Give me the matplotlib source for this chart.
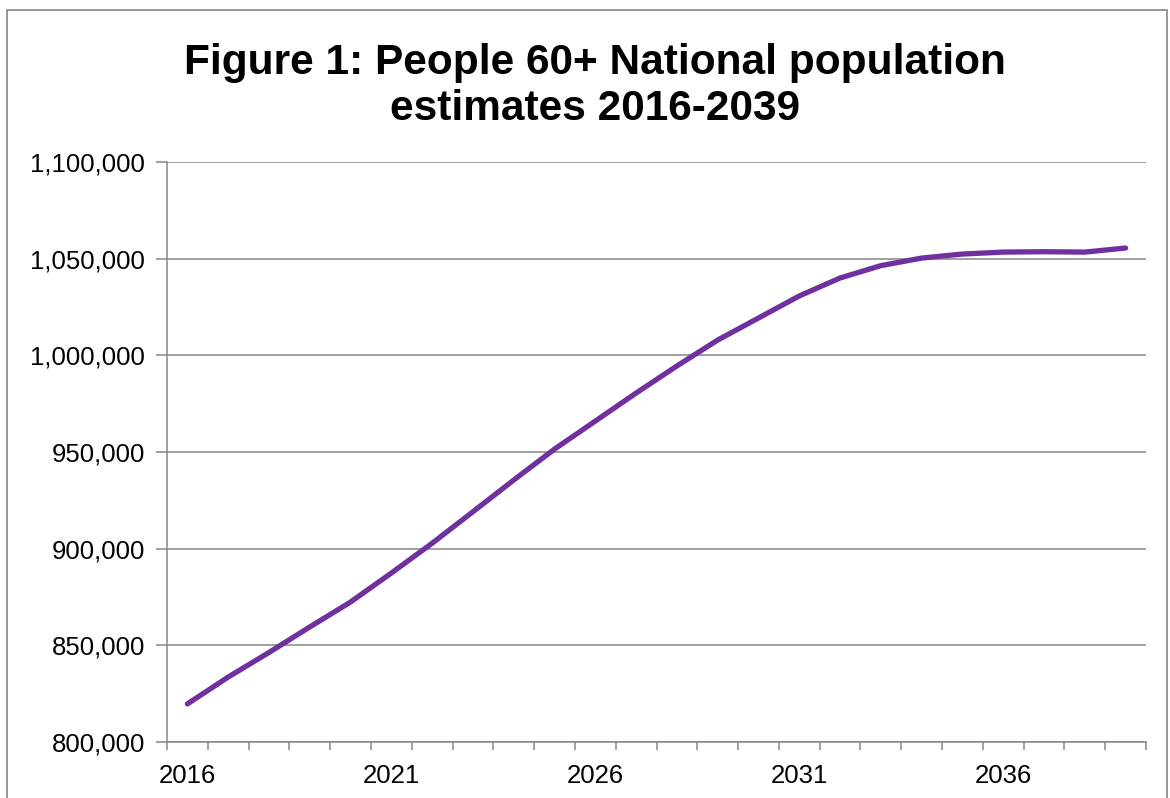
import matplotlib
matplotlib.use("Agg")
import matplotlib.pyplot as plt
from matplotlib.patches import Rectangle
from matplotlib.ticker import FuncFormatter

plt.rcParams['font.family'] = ['Liberation Sans', 'DejaVu Sans']

years = list(range(2016, 2040))
population = [819700, 833600, 846300, 859500, 872400, 887400, 902800, 919100,
              935500, 951500, 966000, 980500, 994500, 1007900, 1019300, 1030700,
              1040000, 1046400, 1050300, 1052400, 1053400, 1053600, 1053400, 1055500]
label_years = [2016, 2021, 2026, 2031, 2036]
y_ticks = [800000, 850000, 900000, 950000, 1000000, 1050000, 1100000]

title = "Figure 1: People 60+ National population\nestimates 2016-2039"

line_color = "#7030A0"
grid_color = "#868686"

fig = plt.figure(figsize=(11.7, 7.98), dpi=100)
ax = fig.add_axes([167/1170, 1-742/798, (1146-167)/1170, (742-162)/798])

x = list(range(len(years)))
ax.plot(x, population, color=line_color, linewidth=3.8, solid_capstyle='round',
        solid_joinstyle='round', zorder=3)

ax.set_xlim(-0.5, len(years) - 0.5)
ax.set_ylim(y_ticks[0], y_ticks[-1])
ax.set_yticks(y_ticks)
ax.yaxis.set_major_formatter(FuncFormatter(lambda v, p: f"{int(v):,}"))
ax.grid(axis='y', color=grid_color, linewidth=1.1, zorder=1)
ax.set_axisbelow(True)

# category boundaries as major ticks, labels as minor ticks
ax.set_xticks([i - 0.5 for i in range(len(years) + 1)])
ax.set_xticklabels([])
ax.set_xticks([years.index(y) for y in label_years], minor=True)
ax.set_xticklabels([str(y) for y in label_years], minor=True)
ax.tick_params(axis='x', which='major', length=6, width=1.1, color=grid_color, direction='out')
ax.tick_params(axis='x', which='minor', length=0, pad=16, labelsize=18.5)
ax.tick_params(axis='y', length=8, width=1.1, color=grid_color, pad=8, labelsize=18.5)

for s in ['top', 'right']:
    ax.spines[s].set_visible(False)
for s in ['left', 'bottom']:
    ax.spines[s].set_color(grid_color)
    ax.spines[s].set_linewidth(1.1)

fig.text(595/1170, 1-43/798, title, ha='center', va='top', fontsize=30.5,
         fontweight='bold', linespacing=1.2)

fig.add_artist(Rectangle((7/1170, -0.05), (1167-7)/1170, 1-10/798+0.05,
                         transform=fig.transFigure, fill=False,
                         edgecolor=grid_color, linewidth=1.2))

fig.savefig("out.png", dpi=100)
